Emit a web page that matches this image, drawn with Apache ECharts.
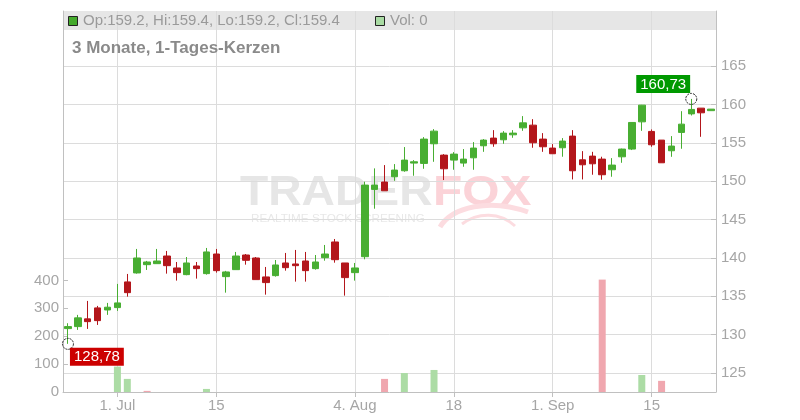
<!DOCTYPE html>
<html><head><meta charset="utf-8">
<script src="https://cdn.jsdelivr.net/npm/echarts@6/dist/echarts.min.js"></script>
<style>html,body{margin:0;padding:0;background:#fff}#c{width:800px;height:420px}</style>
</head><body><div id="c"></div>
<script>
const dates = [
'2025-06-24','2025-06-25','2025-06-26','2025-06-27','2025-06-30',
'2025-07-01','2025-07-02','2025-07-03','2025-07-04',
'2025-07-07','2025-07-08','2025-07-09','2025-07-10','2025-07-11',
'2025-07-14','2025-07-15','2025-07-16','2025-07-17','2025-07-18',
'2025-07-21','2025-07-22','2025-07-23','2025-07-24','2025-07-25',
'2025-07-28','2025-07-29','2025-07-30','2025-07-31','2025-08-01',
'2025-08-04','2025-08-05','2025-08-06','2025-08-07','2025-08-08',
'2025-08-11','2025-08-12','2025-08-13','2025-08-14','2025-08-15',
'2025-08-18','2025-08-19','2025-08-20','2025-08-21','2025-08-22',
'2025-08-25','2025-08-26','2025-08-27','2025-08-28','2025-08-29',
'2025-09-01','2025-09-02','2025-09-03','2025-09-04','2025-09-05',
'2025-09-08','2025-09-09','2025-09-10','2025-09-11','2025-09-12',
'2025-09-15','2025-09-16','2025-09-17','2025-09-18','2025-09-19',
'2025-09-22','2025-09-23'];
const opens = [130.77,131.03,132.04,133.47,133.20,133.51,136.86,138.03,139.11,139.24,
140.24,138.68,137.81,138.94,137.94,140.50,137.55,138.46,140.37,139.98,
137.51,137.68,139.33,139.20,139.59,138.59,140.02,142.07,139.33,138.07,
140.15,148.93,149.89,150.58,151.36,152.36,152.32,154.88,153.40,152.75,
152.36,153.05,154.62,155.62,155.40,156.05,156.96,157.31,155.49,154.32,
154.36,155.88,152.79,153.27,152.88,151.49,153.18,154.19,157.74,156.49,
155.36,153.97,156.36,158.78,159.53,159.2];
const closes = [131.03,132.17,131.68,131.81,133.56,134.12,135.46,139.98,139.46,139.59,
138.98,138.07,139.33,138.59,140.77,138.33,138.16,140.24,139.68,137.16,
136.77,139.07,138.72,138.98,138.33,139.46,140.50,139.76,137.42,138.68,
149.49,149.49,148.75,151.45,152.75,152.53,155.49,156.53,151.62,153.53,
152.88,154.32,155.36,154.88,156.27,156.27,157.61,155.01,154.49,153.58,
155.23,151.36,152.14,152.27,150.84,152.10,154.19,157.66,159.92,154.75,
152.40,154.58,157.44,159.36,158.92,159.4];
const lows = [128.78,130.60,130.73,131.25,132.56,133.08,134.94,137.94,138.42,139.24,
137.94,137.03,137.73,137.29,137.81,138.07,135.46,138.46,139.11,137.16,
135.20,137.55,138.33,136.90,136.90,138.46,139.63,139.37,135.07,137.03,
139.81,146.41,148.75,150.05,151.23,150.71,151.62,152.53,150.15,151.49,
151.88,151.49,153.83,154.49,154.88,155.66,156.57,154.36,153.83,153.58,
153.19,150.23,150.23,150.84,150.19,150.58,152.40,154.06,156.57,154.49,
152.40,153.18,154.23,158.57,155.79,159.2];
const highs = [131.47,132.56,134.38,133.73,134.12,136.60,137.90,141.16,139.60,141.16,
140.90,139.46,140.11,139.46,141.29,141.16,138.30,140.77,140.50,140.11,
138.81,139.72,140.64,141.03,140.77,140.37,141.68,142.46,139.33,139.33,
149.93,151.67,152.10,152.23,154.45,152.75,155.75,156.79,153.53,153.79,
154.19,155.10,155.49,156.66,156.53,156.66,158.49,158.09,156.27,154.84,
155.62,156.66,153.92,153.83,153.19,153.01,154.25,157.70,159.95,156.75,
155.36,155.88,159.13,160.73,159.53,159.4];
const volumes = [0,0,0,0,0,91,47,0,4,0,
0,0,0,0,11,0,0,0,0,0,
0,0,0,0,0,0,0,0,0,0,
0,0,47,0,68,0,0,79,0,0,
0,0,0,0,0,0,0,0,0,0,
0,0,0,0,403,0,0,0,61,0,
40,0,0,0,0,0];
const tickDates = ['2025-07-01','2025-07-15','2025-08-04','2025-08-18','2025-09-01','2025-09-15'];
const tickLabels = ['1. Jul','15','4. Aug','18','1. Sep','15'];
const priceTicks = [125,130,135,140,145,150,155,160,165];
const volTicks = [0,100,200,300,400];
const annotDates = ['2025-06-24','2025-09-19'];
const annotValues = [128.78,160.73];
const annotTexts = ['128,78','160,73'];

const FONT = "'Liberation Sans', Arial, sans-serif";
const chart = echarts.init(document.getElementById('c'), null, {renderer:'canvas'});
const candleData = dates.map((d,i)=>[opens[i],closes[i],lows[i],highs[i]]);
const isTick = (i, v) => tickDates.indexOf(v) >= 0;
const last = dates.length - 1;

chart.setOption({
  animation:false,
  backgroundColor:'#fff',
  grid:{left:63,right:84,top:11,bottom:28,outerBoundsMode:'none',containLabel:false},
  xAxis:{
    type:'category', data:dates, boundaryGap:true,
    axisLine:{show:true,lineStyle:{color:'#c0c0c0',width:1}},
    axisTick:{show:true,alignWithLabel:true,interval:isTick,length:5,lineStyle:{color:'#c0c0c0'}},
    axisLabel:{show:true,interval:isTick,margin:6,color:'#a6a6a6',fontSize:15,fontFamily:FONT,
      formatter:v=>tickLabels[tickDates.indexOf(v)]},
    splitLine:{show:true,interval:isTick,alignWithLabel:true,lineStyle:{color:'#dcdcdc',width:1}}
  },
  yAxis:[
    {type:'value',position:'right',min:122.5,max:172.2,scale:true,
     axisLine:{show:true,lineStyle:{color:'#c0c0c0'}},
     axisTick:{show:true,inside:true,length:5,customValues:priceTicks,lineStyle:{color:'#c0c0c0'}},
     axisLabel:{show:true,customValues:priceTicks,margin:5,color:'#a6a6a6',fontSize:15,fontFamily:FONT},
     splitLine:{show:true,lineStyle:{color:'#dcdcdc',width:1}}
    },
    {type:'value',position:'left',min:0,max:1366,
     axisLine:{show:true,lineStyle:{color:'#c0c0c0'}},
     axisTick:{show:true,inside:true,length:5,customValues:volTicks,lineStyle:{color:'#c0c0c0'}},
     axisLabel:{show:true,customValues:volTicks,margin:4,color:'#a6a6a6',fontSize:15,fontFamily:FONT},
     splitLine:{show:false}
    }
  ],
  graphic:[
    {type:'rect',z:-5,shape:{x:63,y:11,width:653,height:19},style:{fill:'rgba(128,128,128,0.2)'}},
    {type:'rect',z:10,shape:{x:68.5,y:16.5,width:9,height:9},style:{fill:'#44aa2c',stroke:'#222',lineWidth:1}},
    {type:'text',z:10,x:83,y:21,style:{text:'Op:'+opens[last]+', Hi:'+highs[last]+', Lo:'+lows[last]+', Cl:'+closes[last],
      fill:'#9a9a9a',font:'15px '+FONT,textVerticalAlign:'middle'}},
    {type:'rect',z:10,shape:{x:375.5,y:16.5,width:9,height:9},style:{fill:'#a9dba3',stroke:'#222',lineWidth:1}},
    {type:'text',z:10,x:390,y:21,style:{text:'Vol: '+volumes[last],fill:'#9a9a9a',font:'15px '+FONT,textVerticalAlign:'middle'}},
    {type:'text',z:10,x:72,y:48,style:{text:'3 Monate, 1-Tages-Kerzen',fill:'#8a8a8a',font:'bold 17px '+FONT,textVerticalAlign:'middle'}},
    {type:'text',z:-4,x:240,y:193,scaleX:1.1,style:{text:'TRADER',fill:'#e6e6e6',font:'bold 42px '+FONT,textVerticalAlign:'middle'}},
    {type:'text',z:-4,x:433,y:193,scaleX:1.14,style:{text:'FOX',fill:'#fbd3d8',font:'bold 42px '+FONT,textVerticalAlign:'middle'}},
    {type:'bezierCurve',z:-4,shape:{x1:440,y1:227,cpx1:452,cpy1:207,cpx2:490,cpy2:198,x2:528,y2:212},style:{stroke:'#fcdce0',lineWidth:5,fill:null}},
    {type:'bezierCurve',z:-4,shape:{x1:462,y1:224,cpx1:478,cpy1:212,cpx2:500,cpy2:212,x2:515,y2:226},style:{stroke:'#fcdce0',lineWidth:3,fill:null}},
    {type:'text',z:-4,x:251,y:219,scaleX:1.17,style:{text:'REALTIME STOCK SCREENING',fill:'#e8e8e8',font:'10px '+FONT,textVerticalAlign:'middle'}}
  ],
  series:[
    {type:'bar',yAxisIndex:1,data:volumes,barWidth:7,z:1,
     itemStyle:{color:p=>(p.dataIndex>0 && closes[p.dataIndex]<closes[p.dataIndex-1])?'#f0a7af':'#acdca5'}},
    {type:'candlestick',yAxisIndex:0,data:candleData,barWidth:7,z:3,
     itemStyle:{color:'#48ae32',color0:'#b3161b',borderColor:'#48ae32',borderColor0:'#b3161b',borderWidth:1}},
    {type:'scatter',yAxisIndex:0,z:5,symbol:'circle',symbolSize:11,
     data:annotDates.map((d,i)=>({value:[d,annotValues[i]],
       label:{show:true,opacity:1,formatter:annotTexts[i],position:i===0?[8,10]:[-49,-18],
         backgroundColor:i===0?'#cc0000':'#009900',color:'#fff',fontSize:15,fontFamily:FONT,padding:[2,4,1,4]}})),
     itemStyle:{opacity:1,color:'rgba(0,0,0,0)',borderColor:'#222',borderWidth:1,borderType:[2,1]}
    }
  ]
});
</script></body></html>
